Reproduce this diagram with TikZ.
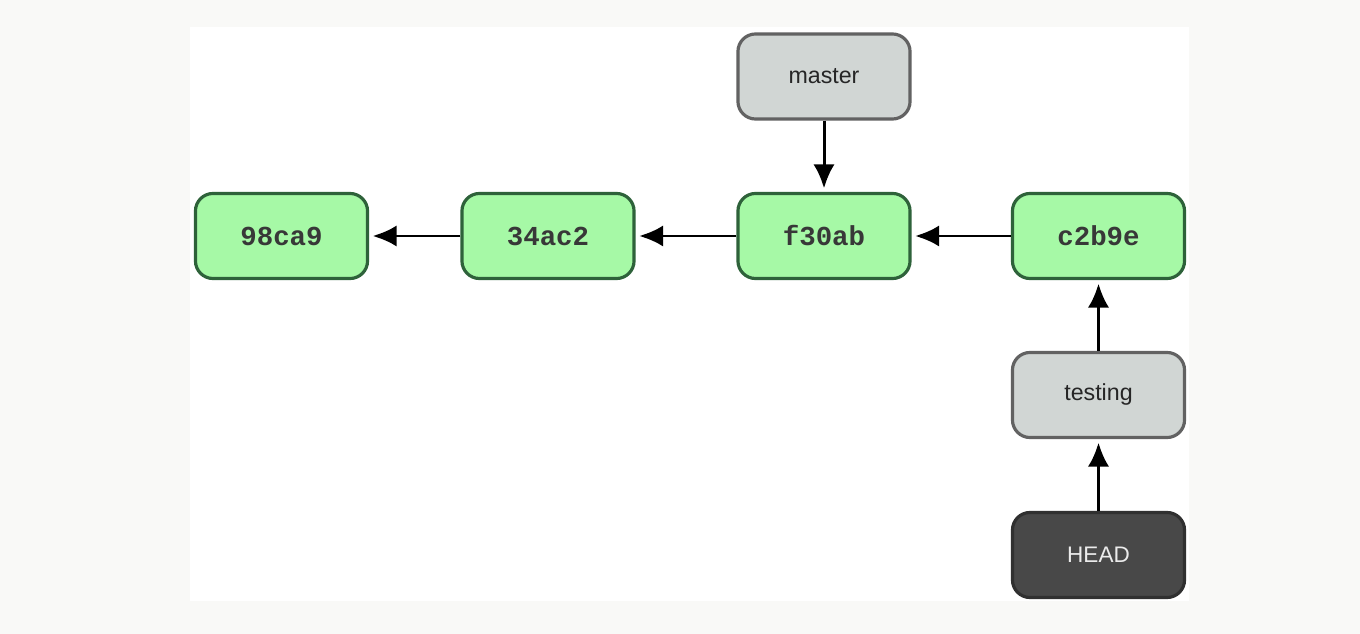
\documentclass[tikz,border=0pt]{standalone}
\usepackage{fontspec}
\setmainfont{Liberation Sans}
\newfontfamily\hashfont{Liberation Mono}
\usetikzlibrary{arrows.meta}

\definecolor{fond}{RGB}{249,249,247}
\definecolor{commitvert}{RGB}{166,249,166}
\definecolor{bordvert}{RGB}{46,98,58}
\definecolor{branchegris}{RGB}{209,214,212}
\definecolor{bordgris}{RGB}{98,98,98}
\definecolor{headgris}{RGB}{72,72,72}
\definecolor{bordhead}{RGB}{48,48,48}

\tikzset{
    boite/.style={rectangle, rounded corners=5pt, line width=0.9pt,
        minimum width=1.72cm, minimum height=0.85cm, inner sep=0pt},
    commit/.style={boite, draw=bordvert, fill=commitvert,
        text=black!78, font=\hashfont\bfseries\fontsize{7.8}{10}\selectfont},
    branche/.style={boite, draw=bordgris, fill=branchegris,
        text=black!85, font=\fontsize{6.6}{8}\selectfont},
    tete/.style={boite, draw=bordhead, fill=headgris,
        text=white!92!black, font=\fontsize{6.4}{8}\selectfont},
    lien/.style={->, line width=0.85pt, shorten >=1pt}
}

\begin{document}
\begin{tikzpicture}[x=0.01cm, y=-0.01cm, >={Latex[length=6.8pt,width=6pt]}]

    % fond
    \fill[fond] (0,0) rectangle (1360,634);
    \fill[white] (190,27) rectangle (1189,601);
    \useasboundingbox (0,0) rectangle (1360,634);

    % commits
    \node[commit] (c98) at (281.5,236) {98ca9};
    \node[commit] (c34) at (548,236) {34ac2};
    \node[commit] (cf3) at (824,236) {f30ab};
    \node[commit] (cc2) at (1098.5,236) {c2b9e};

    % branches
    \node[branche] (master) at (824,76.5) {master};
    \node[branche] (testing) at (1098.5,395) {testing};
    \node[tete] (head) at (1098.5,555) {HEAD};

    % parents
    \draw[lien] (c34) -- (c98);
    \draw[lien] (cf3) -- (c34);
    \draw[lien] (cc2) -- (cf3);

    % pointeurs
    \draw[lien] (master) -- (cf3);
    \draw[lien] (testing) -- (cc2);
    \draw[lien] (head) -- (testing);

\end{tikzpicture}
\end{document}
